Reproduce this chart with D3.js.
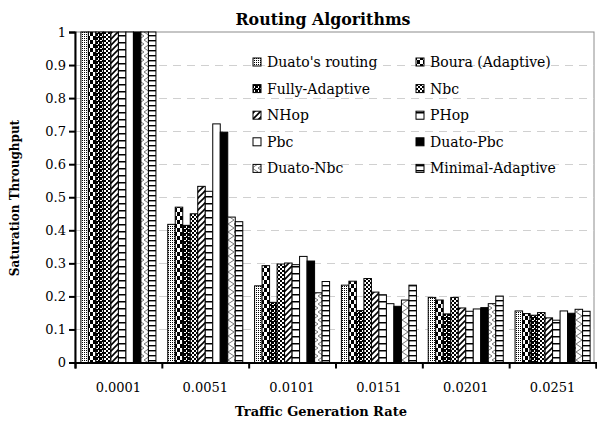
<!DOCTYPE html>
<html><head><meta charset="utf-8">
<script src="https://cdn.jsdelivr.net/npm/d3@7"></script>
<style>body{margin:0;background:#fff}svg{display:block}text{font-family:"DejaVu Serif","Liberation Serif",serif}</style>
</head><body><svg id="c" width="597" height="422"></svg>
<script>
const categories = ["0.0001","0.0051","0.0101","0.0151","0.0201","0.0251"];
const seriesNames = ["Duato's routing","Boura (Adaptive)","Fully-Adaptive","Nbc","NHop","PHop","Pbc","Duato-Pbc","Duato-Nbc","Minimal-Adaptive"];
const duatoRouting   = [1, 0.418, 0.232, 0.234, 0.197, 0.156];
const boura          = [1, 0.470, 0.293, 0.246, 0.189, 0.148];
const fullyAdaptive  = [1, 0.415, 0.182, 0.157, 0.147, 0.143];
const nbc            = [1, 0.450, 0.298, 0.254, 0.197, 0.151];
const nhop           = [1, 0.533, 0.301, 0.213, 0.165, 0.135];
const phop           = [1, 0.518, 0.296, 0.205, 0.155, 0.128];
const pbc            = [1, 0.722, 0.321, 0.178, 0.162, 0.156];
const duatoPbc       = [1, 0.697, 0.307, 0.170, 0.166, 0.149];
const duatoNbc       = [1, 0.440, 0.211, 0.189, 0.178, 0.161];
const minimalAdaptive= [1, 0.426, 0.245, 0.234, 0.201, 0.155];
const seriesValues = [duatoRouting,boura,fullyAdaptive,nbc,nhop,phop,pbc,duatoPbc,duatoNbc,minimalAdaptive];
const yTicks = [0,0.1,0.2,0.3,0.4,0.5,0.6,0.7,0.8,0.9,1];

const svg = d3.select("#c");
const L=75, R=596, T=32, B=362.5;
const defs = svg.append("defs");
function pat(id,w,h,bg,draw){
  const p=defs.append("pattern").attr("id",id).attr("patternUnits","userSpaceOnUse").attr("width",w).attr("height",h);
  p.append("rect").attr("width",w).attr("height",h).attr("fill",bg);
  draw(p);
}
// patterns
pat("p0",2,2,"#fff",p=>{p.append("rect").attr("x",0).attr("y",0).attr("width",1).attr("height",1).attr("fill","#000");});
pat("p1",6,8,"#fff",p=>{p.append("rect").attr("x",0).attr("y",0).attr("width",3).attr("height",4).attr("fill","#000");p.append("rect").attr("x",3).attr("y",4).attr("width",3).attr("height",4).attr("fill","#000");});
pat("p2",4,4,"#000",p=>{p.append("rect").attr("x",0).attr("y",0).attr("width",2).attr("height",1).attr("fill","#fff");p.append("rect").attr("x",2).attr("y",2).attr("width",1).attr("height",2).attr("fill","#fff");});
pat("p3",4,4,"#fff",p=>{p.append("rect").attr("x",0).attr("y",0).attr("width",2).attr("height",2).attr("fill","#000");p.append("rect").attr("x",2).attr("y",2).attr("width",2).attr("height",2).attr("fill","#000");});
pat("p4",6,6,"#fff",p=>{p.append("path").attr("d","M-1,7 L7,-1 M-1,1 L1,-1 M5,7 L7,5").attr("stroke","#000").attr("stroke-width",1.6);});
pat("p5",4,7,"#fff",p=>{p.append("rect").attr("x",0).attr("y",0).attr("width",4).attr("height",1.5).attr("fill","#000");});
pat("p8",6,8,"#fff",p=>{p.append("path").attr("d","M0,0 L6,4 L0,8").attr("stroke","#555").attr("stroke-width",0.8).attr("fill","none");});
pat("p9",4,5,"#fff",p=>{p.append("rect").attr("x",0).attr("y",0).attr("width",4).attr("height",1.4).attr("fill","#000");});
const fills=["url(#p0)","url(#p1)","url(#p2)","url(#p3)","url(#p4)","url(#p5)","#fff","#000","url(#p8)","url(#p9)"];

const y = d3.scaleLinear().domain([0,1]).range([B,T]);
const x0 = d3.scaleBand().domain(categories).range([L,R]).paddingInner(0.136).paddingOuter(0.068);
const x1 = d3.scaleBand().domain(seriesNames).range([0,x0.bandwidth()]);
const xLin = d3.scaleLinear().domain([0,categories.length]).range([L,R]);

// plot border
svg.append("rect").attr("x",L).attr("y",T).attr("width",594-L).attr("height",B-T).attr("fill","none").attr("stroke","#8c8c8c").attr("stroke-width",1);
// gridlines
svg.append("g").selectAll("line").data(yTicks.filter(v=>v>0&&v<1)).join("line")
  .attr("x1",L).attr("x2",594).attr("y1",d=>Math.round(y(d))+0.5).attr("y2",d=>Math.round(y(d))+0.5)
  .attr("stroke","#d0d0d0").attr("stroke-width",1).attr("stroke-dasharray","8,6");

// bars
const g = svg.append("g");
seriesNames.forEach((s,i)=>{
  g.append("g").selectAll("rect").data(seriesValues[i]).join("rect")
    .attr("x",(d,j)=>x0(categories[j])+x1(s))
    .attr("y",d=>y(d))
    .attr("width",x1.bandwidth())
    .attr("height",d=>B-y(d))
    .attr("fill",fills[i]).attr("stroke","#000").attr("stroke-width",1);
});

// y axis
const ya = svg.append("g").attr("transform",`translate(${L},0)`)
  .call(d3.axisLeft(y).tickValues(yTicks).tickSize(6).tickFormat(d=>d===0?"0":d===1?"1":d3.format(".1f")(d)));
ya.select(".domain").attr("stroke","#000").attr("stroke-width",2);
ya.selectAll(".tick line").attr("stroke","#000").attr("stroke-width",2);
ya.selectAll(".tick text").attr("font-size",13).attr("font-family","'DejaVu Serif',serif").attr("fill","#000").attr("x",-9);

// x axis
const xa = svg.append("g").attr("transform",`translate(0,${B})`)
  .call(d3.axisBottom(xLin).tickValues(d3.range(categories.length+1)).tickSize(6).tickFormat(""));
xa.select(".domain").attr("stroke","#000").attr("stroke-width",2);
xa.selectAll(".tick line").attr("stroke","#000").attr("stroke-width",2);
svg.append("g").selectAll("text").data(categories).join("text")
  .attr("x",d=>x0(d)+x0.bandwidth()/2).attr("y",392).attr("text-anchor","middle")
  .attr("font-size",13).text(d=>d);

// titles
svg.append("text").attr("x",323).attr("y",25).attr("text-anchor","middle").attr("font-size",15.8).attr("font-weight","bold").text("Routing Algorithms");
svg.append("text").attr("x",321).attr("y",416).attr("text-anchor","middle").attr("font-size",13).attr("font-weight","bold").text("Traffic Generation Rate");
svg.append("text").attr("transform","translate(19,198) rotate(-90)").attr("text-anchor","middle").attr("font-size",12).attr("font-weight","bold").text("Saturation Throughput");

// legend
const lg = svg.append("g");
seriesNames.forEach((s,i)=>{
  const col=i%2,row=Math.floor(i/2);
  const lx = col===0?253:416, ly = 62+row*26.6;
  lg.append("rect").attr("x",lx).attr("y",ly-4).attr("width",8).attr("height",8).attr("fill",fills[i]).attr("stroke","#000").attr("stroke-width",1);
  lg.append("text").attr("x",lx+14).attr("y",ly+5).attr("font-size",14).text(s);
});
</script></body></html>
